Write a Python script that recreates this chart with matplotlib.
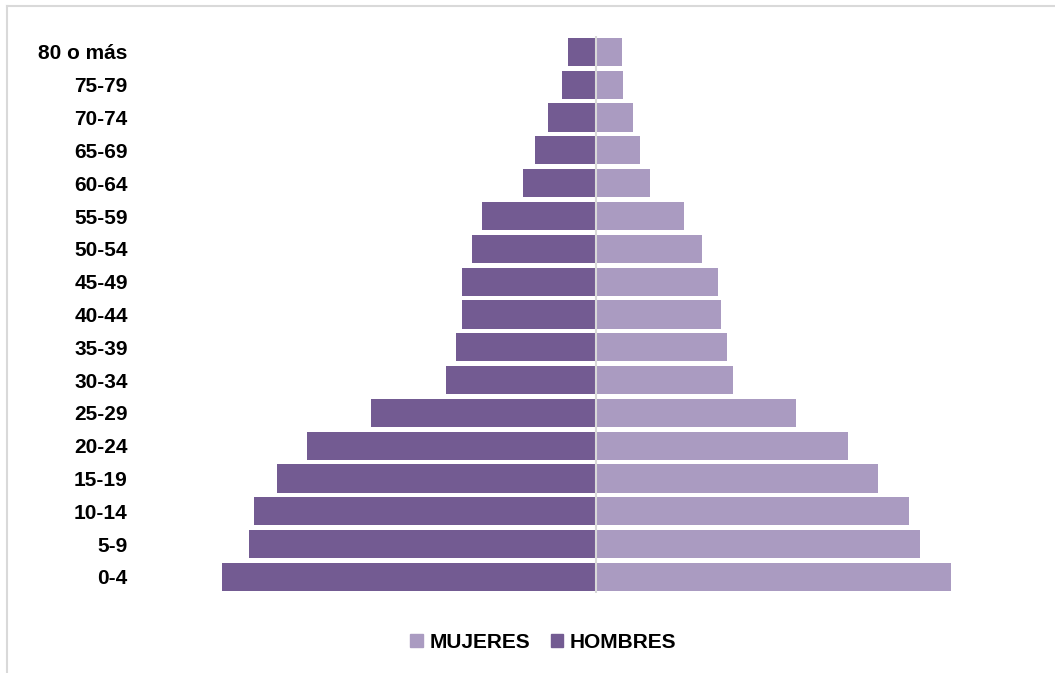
import numpy as np
import matplotlib.pyplot as plt
from matplotlib.lines import Line2D
from matplotlib.patches import Patch

plt.rcParams['font.family'] = ['Liberation Sans', 'DejaVu Sans']

# age groups, bottom to top
groups = ['0-4', '5-9', '10-14', '15-19', '20-24', '25-29', '30-34', '35-39',
          '40-44', '45-49', '50-54', '55-59', '60-64', '65-69', '70-74',
          '75-79', '80 o más']
hombres = [374, 347, 342, 319, 289, 225, 150, 140, 134, 134, 124, 114, 73, 61, 48, 34, 28]
mujeres = [355, 324, 313, 282, 252, 200, 137, 131, 125, 122, 106, 88, 54, 44, 37, 27, 26]

c_h = '#735B92'
c_m = '#AA9BC1'

fig = plt.figure(figsize=(10.55, 6.73), dpi=100)
ax = fig.add_axes([0.1422, 0.1183, 0.8455, 0.8289])

y = np.arange(len(groups))
ax.barh(y, -np.array(hombres), height=0.86, color=c_h)
ax.barh(y, mujeres, height=0.86, color=c_m)
ax.axvline(0, color='#D9D9D9', lw=1.5, zorder=3)

ax.set_xlim(-446, 446)
ax.set_ylim(-0.5, len(groups) - 0.5)
ax.set_yticks(y)
ax.set_yticklabels(groups, fontsize=15, fontweight='bold')
ax.tick_params(axis='y', length=0, pad=16)
ax.set_xticks([])
for s in ax.spines.values():
    s.set_visible(False)

handles = [Patch(color=c_m, label='MUJERES'), Patch(color=c_h, label='HOMBRES')]
fig.legend(handles=handles, loc='center', bbox_to_anchor=(0.515, 0.045), ncol=2,
           frameon=False, prop={'size': 15, 'weight': 'bold'},
           handlelength=0.6, handleheight=0.6, handletextpad=0.3, columnspacing=1.0)

# chart border (left and top edges visible)
fig.add_artist(Line2D([7 / 1055, 7 / 1055], [0, 1 - 6 / 673], color='#D9D9D9', lw=1.5,
                      transform=fig.transFigure))
fig.add_artist(Line2D([7 / 1055, 1], [1 - 6 / 673, 1 - 6 / 673], color='#D9D9D9', lw=1.5,
                      transform=fig.transFigure))

fig.savefig('out.png', dpi=100)
